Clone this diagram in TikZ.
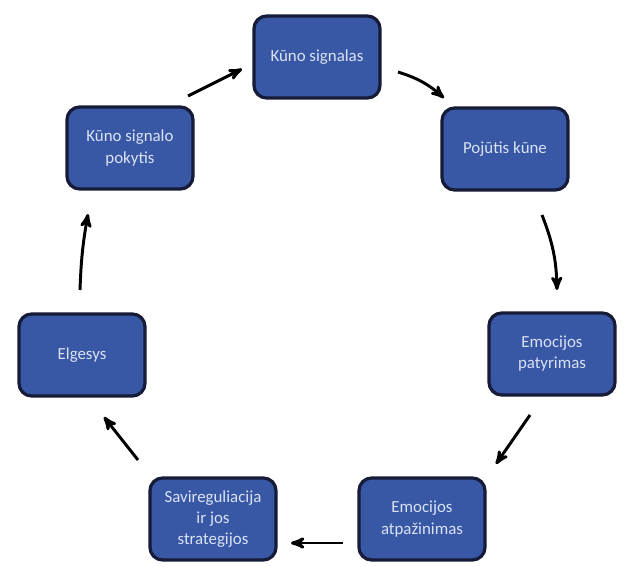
\documentclass[tikz,border=0pt]{standalone}
\usepackage{fontspec}
\setmainfont{Carlito}
\usetikzlibrary{positioning,arrows}
\definecolor{boxblue}{RGB}{56,88,166}
\definecolor{boxline}{RGB}{22,28,56}
\definecolor{boxtext}{RGB}{218,226,244}
\begin{document}
\begin{tikzpicture}[%
	x=0.025cm, y=-0.025cm,
	>=stealth', auto,
	align=center,
	box/.style={draw=boxline, fill=boxblue, line width=2.3pt, rounded corners=9pt,
		minimum width=3.15cm, minimum height=2.05cm, text=boxtext,
		font=\fontsize{12}{15}\selectfont},
	arr/.style={->, line width=2.1pt}
	]
	\useasboundingbox (0,0) rectangle (624,566);
	
	\node[box] (ks) at (317,57) {Kūno signalas};
	\node[box] (pk) at (505,149) {Pojūtis kūne};
	\node[box] (ep) at (552,354) {Emocijos\\patyrimas};
	\node[box] (ea) at (422,519) {Emocijos\\atpažinimas};
	\node[box] (sr) at (213,519) {Savireguliacija\\ir jos\\strategijos};
	\node[box] (el) at (82,355) {Elgesys};
	\node[box] (kp) at (130,148) {Kūno signalo\\pokytis};
	
	% arrow ends between the boxes
	\coordinate (ks-pk-a) at (398,72);  \coordinate (ks-pk-b) at (444,98);
	\coordinate (pk-ep-a) at (542,215); \coordinate (pk-ep-b) at (557,290);
	\coordinate (ep-ea-a) at (530,415); \coordinate (ep-ea-b) at (496,464);
	\coordinate (ea-sr-a) at (343,543); \coordinate (ea-sr-b) at (291,543);
	\coordinate (sr-el-a) at (138,460); \coordinate (sr-el-b) at (104,417);
	\coordinate (el-kp-a) at (80,290);  \coordinate (el-kp-b) at (88,214);
	\coordinate (kp-ks-a) at (188,96);  \coordinate (kp-ks-b) at (242,69);
	
	\draw[arr] (ks-pk-a) to[bend left=12] (ks-pk-b);
	\draw[arr] (pk-ep-a) to[bend left=10] (pk-ep-b);
	\draw[arr] (ep-ea-a) -- (ep-ea-b);
	\draw[arr] (ea-sr-a) -- (ea-sr-b);
	\draw[arr] (sr-el-a) -- (sr-el-b);
	\draw[arr] (el-kp-a) to[bend left=4] (el-kp-b);
	\draw[arr] (kp-ks-a) -- (kp-ks-b);
\end{tikzpicture}
\end{document}
